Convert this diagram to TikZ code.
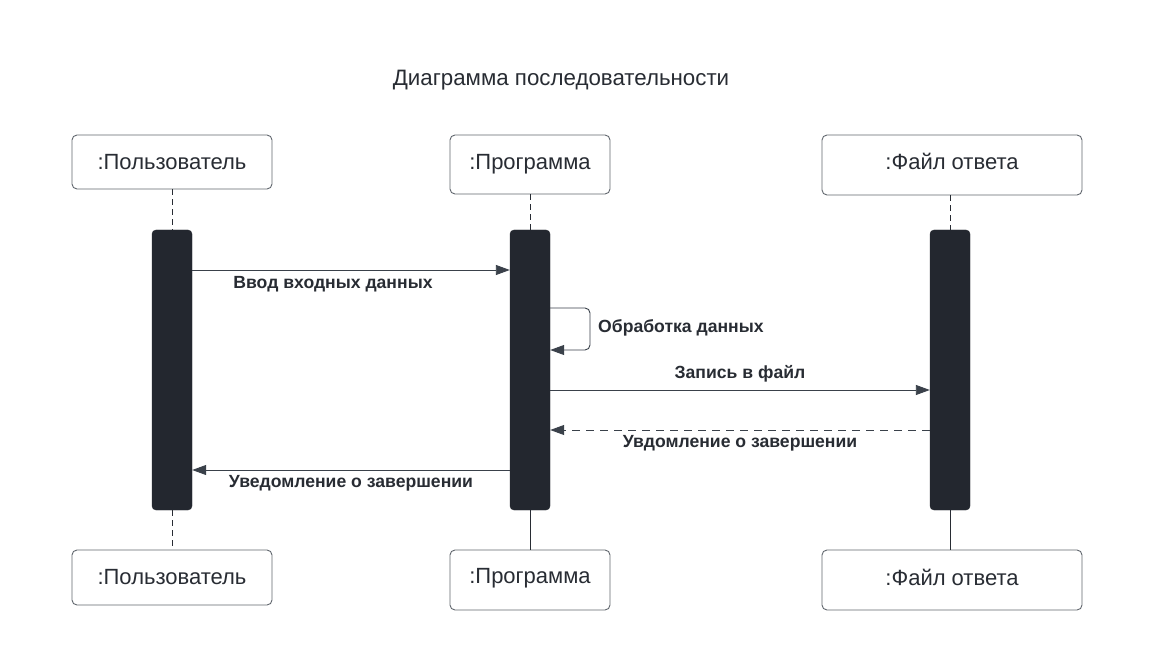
\documentclass[tikz,border=0pt]{standalone}
\usepackage{fontspec}
\setmainfont{Liberation Sans}
\usetikzlibrary{arrows.meta}
\definecolor{ink}{HTML}{282C33}
\definecolor{barfill}{HTML}{23272F}
\definecolor{edge}{HTML}{3A414A}
\begin{document}
\begin{tikzpicture}[x=1pt,y=-1pt,
  actor/.style={draw=edge!80, line width=0.9pt, rounded corners=5pt, fill=white,
    font=\fontsize{22}{25}\selectfont, text=ink, inner sep=0pt},
  activation/.style={fill=barfill, draw=barfill, rounded corners=4pt},
  lifeline/.style={draw=ink, line width=0.9pt},
  msg/.style={draw=edge, line width=0.9pt, -{Triangle[length=14pt,width=10pt]}},
  ret/.style={msg, dash pattern=on 8pt off 6pt},
  lbl/.style={font=\bfseries\fontsize{17.6}{20}\selectfont, text=ink, inner sep=0pt}]
\useasboundingbox (0,0) rectangle (1155,660);
\fill[white] (0,0) rectangle (1155,660);

% title
\node[font=\fontsize{22.3}{25}\selectfont, text=ink] (title) at (561,80) {Диаграмма последовательности};

% participants (top)
\node[actor, minimum width=200pt, minimum height=54pt] (userT) at (172,162) {:Пользователь};
\node[actor, minimum width=160pt, minimum height=59pt] (progT) at (530,164.5) {:Программа};
\node[actor, minimum width=260pt, minimum height=60pt, text depth=8pt] (fileT) at (952,165) {:Файл ответа};

% participants (bottom)
\node[actor, minimum width=200pt, minimum height=55pt] (userB) at (172,577.5) {:Пользователь};
\node[actor, minimum width=160pt, minimum height=60pt, text depth=8.5pt] (progB) at (530,580) {:Программа};
\node[actor, minimum width=260pt, minimum height=60pt, text depth=5pt] (fileB) at (952,580) {:Файл ответа};

% activation bars
\node[activation, minimum width=40pt, minimum height=280pt, inner sep=0pt] (userA) at (172,370) {};
\node[activation, minimum width=40pt, minimum height=280pt, inner sep=0pt] (progA) at (530,370) {};
\node[activation, minimum width=40pt, minimum height=280pt, inner sep=0pt] (fileA) at (950,370) {};

% lifelines
\draw[lifeline, dash pattern=on 6pt off 4pt] (userT.south) -- (userA.north);
\draw[lifeline, dash pattern=on 6pt off 4pt] (progT.south) -- (progA.north);
\draw[lifeline, dash pattern=on 6pt off 4pt] (fileA.north |- fileT.south) -- (fileA.north);
\draw[lifeline, dash pattern=on 6pt off 4pt] (userA.south) -- (userB.north);
\draw[lifeline] (progA.south) -- (progB.north);
\draw[lifeline] (fileA.south) -- (fileA.south |- fileB.north);

% messages
\draw[msg] (userA.east |- 0,270) -- (progA.west |- 0,270);
\node[lbl] (m1) at (333,284) {Ввод входных данных};

\draw[msg, rounded corners=5pt] (progA.east |- 0,308) -- (590,308) -- (590,350) -- (progA.east |- 0,350);
\node[lbl, anchor=west] (m2) at (598,328) {Обработка данных};

\draw[msg] (progA.east |- 0,390) -- (fileA.west |- 0,390);
\node[lbl] (m3) at (740,374) {Запись в файл};

\draw[ret] (fileA.west |- 0,430) -- (progA.east |- 0,430);
\node[lbl] (m4) at (740,443) {Увдомление о завершении};

\draw[msg] (progA.west |- 0,470) -- (userA.east |- 0,470);
\node[lbl] (m5) at (351,483) {Уведомление о завершении};
\end{tikzpicture}
\end{document}
